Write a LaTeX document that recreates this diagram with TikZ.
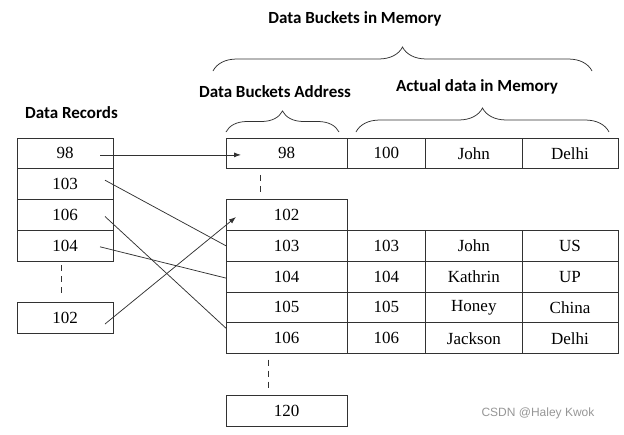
\documentclass[tikz,border=0pt]{standalone}
\usepackage{fontspec}
\setmainfont{Liberation Serif}
\newfontfamily\headfont{Carlito}
\newfontfamily\markfont{Liberation Sans}
\usepackage{tikz}
\usetikzlibrary{arrows.meta,decorations.pathreplacing}
\usepackage{xcolor}
\definecolor{dbline}{RGB}{50,50,50}
\definecolor{dbgray}{RGB}{150,150,150}
\tikzstyle{cell} = [draw=dbline, line width=0.9pt, minimum height=30.8pt, inner sep=0pt, outer sep=0pt, font=\fontsize{17}{20}\selectfont]
\tikzstyle{recbox} = [cell, minimum width=96pt]
\tikzstyle{addrbox} = [cell, minimum width=121pt]
\tikzstyle{idbox} = [cell, minimum width=78.7pt]
\tikzstyle{namebox} = [cell, minimum width=96.3pt]
\tikzstyle{citybox} = [cell, minimum width=96pt]
\tikzstyle{head} = [font=\headfont\bfseries\fontsize{17}{20}\selectfont]
\tikzstyle{link} = [line width=0.75pt, color=dbline]
\tikzstyle{arrow} = [link, -{Latex[length=7pt,width=5pt]}]
\tikzstyle{gap} = [link, dash pattern=on 6pt off 5pt]
\tikzstyle{curly} = [link, decorate]

\begin{document}
\begin{tikzpicture}[x=1pt, y=-1pt]
\useasboundingbox (0,0) rectangle (624,434);

% Headings
\node[head] (memtitle) at (355,19) {Data Buckets in Memory};
\node[head] (rectitle) at (71.5,113) {Data Records};
\node[head] (addrtitle) at (275,92) {Data Buckets Address};
\node[head] (datatitle) at (477,87) {Actual data in Memory};

% Braces
\draw[curly, decoration={brace,amplitude=24pt}] (213,71) -- (592,71);
\draw[curly, decoration={brace,amplitude=21pt}] (226,132) -- (339,132);
\draw[curly, decoration={brace,amplitude=24pt}] (356,132) -- (609,132);

% Data records
\node[recbox] (rec98) at (65,153.4) {98};
\node[recbox] (rec103) at (65,184.2) {103};
\node[recbox] (rec106) at (65,215) {106};
\node[recbox] (rec104) at (65,245.8) {104};
\node[recbox] (rec102) at (65,318) {102};

% Bucket addresses
\node[addrbox] (addr98) at (286.5,153.4) {98};
\node[addrbox] (addr102) at (286.5,215) {102};
\node[addrbox] (addr103) at (286.5,245.8) {103};
\node[addrbox] (addr104) at (286.5,276.6) {104};
\node[addrbox] (addr105) at (286.5,307.4) {105};
\node[addrbox] (addr106) at (286.5,338.2) {106};
\node[addrbox] (addr120) at (286.5,410.6) {120};

% Actual data
\node[idbox] (id98) at (386.35,153.4) {100};
\node[namebox] (name98) at (473.85,153.4) {John};
\node[citybox] (city98) at (570,153.4) {Delhi};
\node[idbox] (id103) at (386.35,245.8) {103};
\node[namebox] (name103) at (473.85,245.8) {John};
\node[citybox] (city103) at (570,245.8) {US};
\node[idbox] (id104) at (386.35,276.6) {104};
\node[namebox] (name104) at (473.85,276.6) {Kathrin};
\node[citybox] (city104) at (570,276.6) {UP};
\node[idbox] (id105) at (386.35,307.4) {105};
\node[namebox] (name105) at (473.85,307.4) {Honey};
\node[citybox] (city105) at (570,307.4) {China};
\node[idbox] (id106) at (386.35,338.2) {106};
\node[namebox] (name106) at (473.85,338.2) {Jackson};
\node[citybox] (city106) at (570,338.2) {Delhi};

% Gaps
\draw[gap] ([xshift=-4pt,yshift=-4pt]rec104.south) -- ([xshift=-4pt,yshift=5pt]rec102.north);
\draw[gap] ([xshift=-26.5pt,yshift=-6pt]addr98.south) -- ([xshift=-26.5pt,yshift=7pt]addr102.north);
\draw[gap] ([xshift=-18.5pt,yshift=-6pt]addr106.south) -- ([xshift=-18.5pt,yshift=4pt]addr120.north);

% Pointers
\draw[arrow] ([xshift=-13pt,yshift=-1.5pt]rec98.east) -- ([xshift=15pt,yshift=-1.5pt]addr98.west);
\draw[link] ([xshift=-8pt,yshift=4pt]rec103.east) -- (addr103.west);
\draw[link] ([xshift=-8pt,yshift=-1.5pt]rec106.east) -- ([yshift=10pt]addr106.west);
\draw[link] ([xshift=-13pt,yshift=-1pt]rec104.east) -- ([yshift=-1.5pt]addr104.west);
\draw[arrow] ([xshift=-8pt,yshift=-6pt]rec102.east) -- ([xshift=10pt,yshift=-2pt]addr102.west);

\node[font=\markfont\fontsize{12}{14}\selectfont, text=dbgray] (mark) at (538,413) {CSDN @Haley Kwok};
\end{tikzpicture}
\end{document}
